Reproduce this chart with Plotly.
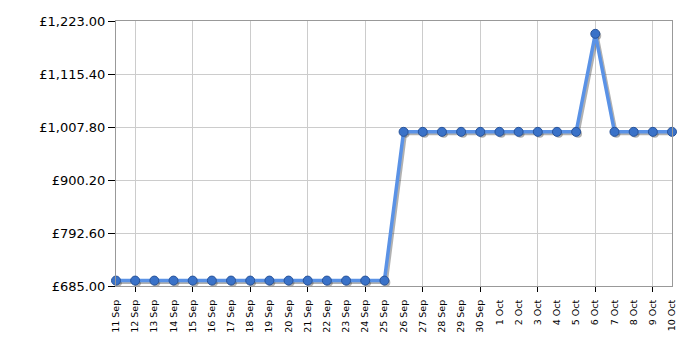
import plotly.graph_objects as go

dates = ["11 Sep","12 Sep","13 Sep","14 Sep","15 Sep","16 Sep","17 Sep","18 Sep","19 Sep","20 Sep",
         "21 Sep","22 Sep","23 Sep","24 Sep","25 Sep","26 Sep","27 Sep","28 Sep","29 Sep","30 Sep",
         "1 Oct","2 Oct","3 Oct","4 Oct","5 Oct","6 Oct","7 Oct","8 Oct","9 Oct","10 Oct"]
prices = [695.99]*15 + [997.99]*10 + [1196.99] + [997.99]*4
y_ticks = [685.00, 792.60, 900.20, 1007.80, 1115.40, 1223.00]
y_labels = ["£{:,.2f}".format(v) for v in y_ticks]

xs = list(range(len(dates)))
fig = go.Figure()
# shadow
fig.add_trace(go.Scatter(x=[v + 0.1 for v in xs], y=[p - 4 for p in prices], mode="lines+markers",
                         line=dict(color="rgba(60,60,60,0.4)", width=3),
                         marker=dict(size=8, color="rgba(60,60,60,0.4)"),
                         hoverinfo="skip", showlegend=False, cliponaxis=False))
fig.add_trace(go.Scatter(x=xs, y=prices, mode="lines+markers",
                         line=dict(color="#5a92e6", width=3.5),
                         marker=dict(size=9, color="#3a72c8", line=dict(color="#27539a", width=1)),
                         showlegend=False, cliponaxis=False))

fig.update_layout(
    width=700, height=350,
    margin=dict(l=116, r=28, t=21, b=64),
    paper_bgcolor="white", plot_bgcolor="white",
    font=dict(family="DejaVu Sans, Verdana, sans-serif", color="black"),
)
fig.update_xaxes(
    range=[0, len(dates) - 1],
    tickmode="array", tickvals=xs, ticktext=dates, tickangle=-90,
    tickfont=dict(size=9.5), ticks="", showgrid=False, zeroline=False,
    ticklabelstandoff=9,
    showline=True, linecolor="#999999", linewidth=1, mirror=True,
    minor=dict(tickmode="array", tickvals=xs[1::3], ticks="outside", ticklen=5,
               tickcolor="black", showgrid=True, gridcolor="#cccccc", gridwidth=1),
)
fig.update_yaxes(
    range=[y_ticks[0], y_ticks[-1]],
    tickmode="array", tickvals=y_ticks, ticktext=y_labels,
    tickfont=dict(size=13), ticks="outside", ticklen=7, tickcolor="black",
    showgrid=True, gridcolor="#cccccc", zeroline=False,
    showline=True, linecolor="#999999", linewidth=1, mirror=True,
)
fig.write_html("out.html")
